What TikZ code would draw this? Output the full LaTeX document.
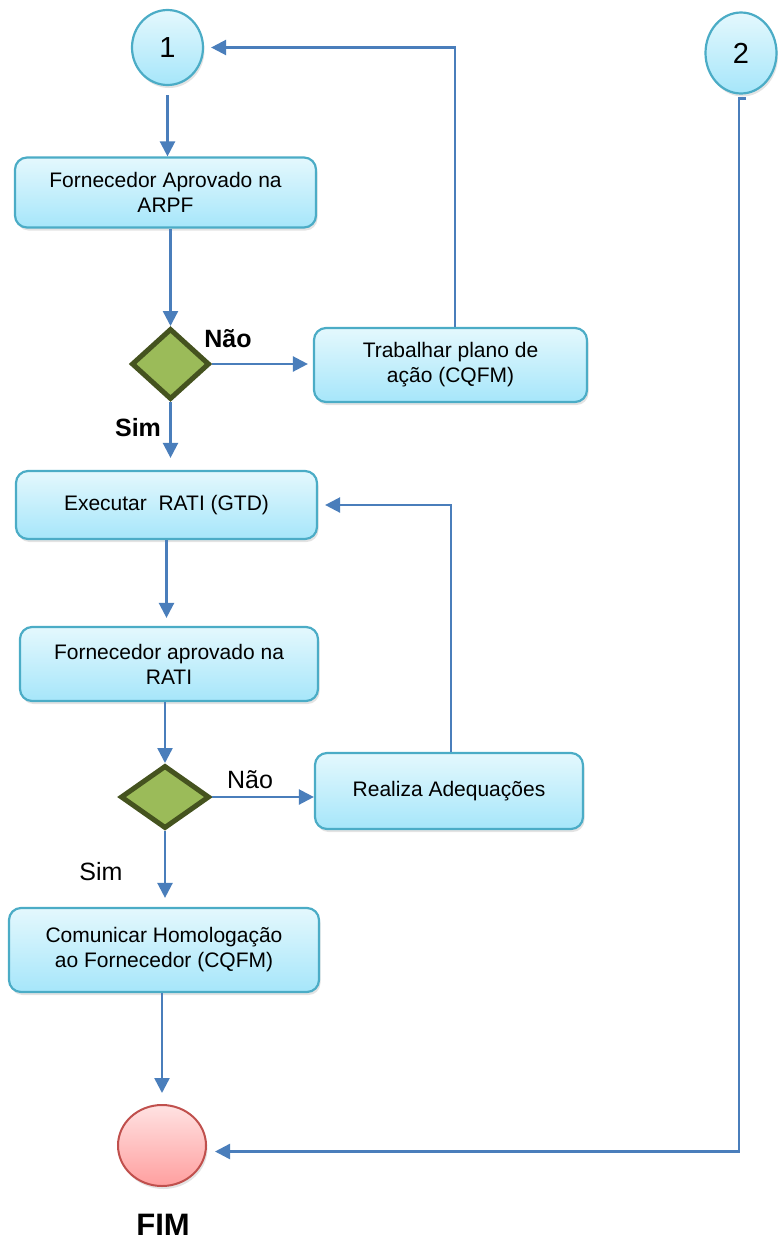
\documentclass[tikz,border=0pt]{standalone}
\usepackage{fontspec}
\setmainfont{Liberation Sans}
\usepackage{xcolor}
\usetikzlibrary{positioning,arrows.meta,shapes.geometric,shadows,calc}
\definecolor{uBoxTop}{HTML}{E4F8FD}
\definecolor{uBoxBot}{HTML}{A6E6FA}
\definecolor{uEdge}{HTML}{4BACC6}
\definecolor{uFlow}{HTML}{4A7EBB}
\definecolor{uDec}{HTML}{9BBB59}
\definecolor{uDecEdge}{HTML}{45531F}
\definecolor{uEndTop}{HTML}{FFE2E2}
\definecolor{uEndBot}{HTML}{FF9F9F}
\definecolor{uEndEdge}{HTML}{C0504D}
\tikzset{
  shade/.style={drop shadow={shadow xshift=1.5pt, shadow yshift=-3pt,
                opacity=.22}},
  blk/.style={draw=uEdge, line width=2.2pt, rounded corners=12pt, align=center,
              top color=uBoxTop, bottom color=uBoxBot, inner sep=2pt,
              font=\fontsize{21}{25}\selectfont, shade},
  conn/.style={ellipse, draw=uEdge, line width=2.2pt, inner sep=0pt,
               top color=uBoxTop, bottom color=uBoxBot,
               font=\fontsize{29}{30}\selectfont, shade},
  dec/.style={diamond, draw=uDecEdge, line width=5pt, fill=uDec, inner sep=0pt},
  endpt/.style={ellipse, draw=uEndEdge, line width=2pt, inner sep=0pt,
                top color=uEndTop, bottom color=uEndBot, shade},
  flow/.style={draw=uFlow, line width=2.4pt, -{Triangle[length=15pt, width=15pt]}},
  lbl/.style={font=\fontsize{25}{28}\selectfont, inner sep=0pt},
  lblb/.style={font=\fontsize{25}{28}\selectfont\bfseries, inner sep=0pt},
}

\begin{document}
\begin{tikzpicture}[x=1pt, y=-1pt]
\useasboundingbox (0,0) rectangle (780,1240);

% connectors on the page
\node[conn, minimum width=71pt, minimum height=75pt] (c1) at (167.5,47.5) {1};
\node[conn, minimum width=71pt, minimum height=81pt] (c2) at (741,53) {2};

\node[blk, minimum width=301pt, minimum height=70pt] (arpf) at (165.5,192.5)
  {Fornecedor Aprovado na\\ARPF};
\node[dec, minimum width=78pt, minimum height=71pt] (d1) at (170.5,364) {};
\node[blk, minimum width=273pt, minimum height=74pt] (plano) at (450.5,365)
  {Trabalhar plano de\\ação (CQFM)};
\node[lblb] (nao1) at (228,339) {Não};
\node[lblb] (sim1) at (138,428) {Sim};

\node[blk, minimum width=301pt, minimum height=68pt] (rati) at (166.5,505)
  {Executar\ \ RATI (GTD)};
\node[blk, minimum width=298pt, minimum height=74pt] (aprov) at (169,664)
  {Fornecedor aprovado na\\RATI};
\node[dec, minimum width=89pt, minimum height=63pt] (d2) at (165,797) {};
\node[blk, minimum width=268pt, minimum height=76pt] (adeq) at (449,791)
  {Realiza Adequações};
\node[lbl] (nao2) at (250,780) {Não};
\node[lbl] (sim2) at (101,872) {Sim};

\node[blk, minimum width=310pt, minimum height=84pt] (comun) at (164,950)
  {Comunicar Homologação\\ao Fornecedor (CQFM)};
\node[endpt, minimum width=88pt, minimum height=81pt] (fim) at (162,1145.5) {};
\node[font=\fontsize{31}{34}\selectfont\bfseries, inner sep=0pt] (fimtxt)
  at (163,1225) {FIM};

\draw[flow, shorten <=9pt] (c1.south) -- (c1.south |- arpf.north);
\draw[flow] (d1.north |- arpf.south) -- (d1.north);
\draw[flow, shorten >=5pt] (d1.east) -- (d1.east -| plano.west);
\draw[flow, shorten >=7pt] ([xshift=4.5pt]plano.north) |- (c1.east);
\draw[flow, shorten >=12pt] (d1.south) -- (d1.south |- rati.north);
\draw[flow, shorten >=8pt] (rati.south) -- (rati.south |- aprov.north);
\draw[flow] (d2.north |- aprov.south) -- (d2.north);
\draw[flow] (d2.east) -- (d2.east -| adeq.west);
\draw[flow, shorten >=7pt] ([xshift=2pt]adeq.north) |- (rati.east);
\draw[flow, shorten >=9pt] (d2.south) -- (d2.south |- comun.north);
\draw[flow, shorten >=11pt] (fim.north |- comun.south) -- (fim.north);
\draw[flow, shorten >=8pt] ([shift={(5,4)}]c2.south) -- ++(-7,0)
  |- ([shift={(0,6)}]fim.east);

\end{tikzpicture}
\end{document}
